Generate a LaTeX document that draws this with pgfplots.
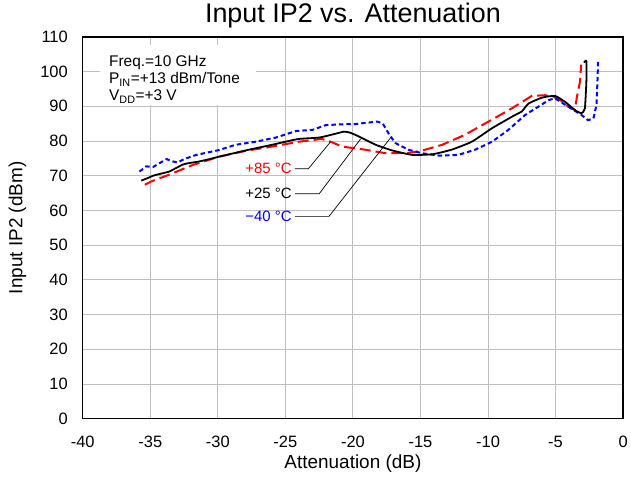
\documentclass[border=0pt]{standalone}
\usepackage{pgfplots}
\pgfplotsset{compat=1.18}
\usepackage{fontspec}
\setmainfont{Liberation Sans}
\definecolor{myred}{RGB}{255,0,0}
\definecolor{myblue}{RGB}{0,0,255}
\begin{document}
\begin{tikzpicture}
\begin{axis}[
  scale only axis,
  width=542pt, height=383pt,
  xmin=-40, xmax=0, ymin=0, ymax=110,
  clip=false,
  xtick={-40,-35,-30,-25,-20,-15,-10,-5,0},
  xticklabels={-40,-35,-30,-25,-20,-15,-10,-5,0},
  ytick={0,10,20,30,40,50,60,70,80,90,100,110},
  yticklabels={0,10,20,30,40,50,60,70,80,90,100,110},
  major tick length=0pt,
  grid=major,
  major grid style={draw=black!25, line width=1pt},
  axis line style={line width=1.5pt},
  tick label style={font=\fontsize{16.5}{18}\selectfont},
  xticklabel style={yshift=-13.5pt},
  yticklabel style={xshift=-11.5pt},
  label style={font=\fontsize{19}{21}\selectfont},
  xlabel={Attenuation (dB)},
  ylabel={Input IP2 (dBm)},
  xlabel style={at={(axis description cs:0.5,-0.1175)}, anchor=center},
  ylabel style={at={(axis description cs:-0.121,0.5)}, anchor=center, rotate=0},
  title={Input IP2 vs. Attenuation},
  title style={font=\fontsize{27}{29}\selectfont, at={(axis description cs:0.5,1.0394)}, anchor=center},
]
% page extent
\path (axis cs:-46.125,-17.23) rectangle (axis cs:0.443,120.05);
% white legend box
\fill[white] (axis cs:-38.7,107.6) rectangle (axis cs:-27.2,90.3);
\node[anchor=north west, align=left, inner sep=0pt, font=\fontsize{15.5}{17}\selectfont]
  at (axis cs:-38.06,104.6) {Freq.=10 GHz\\P\textsubscript{IN}=+13 dBm/Tone\\V\textsubscript{DD}=+3 V};

% +85 C
\addplot[myred, line width=2pt, dash pattern=on 11pt off 5pt] coordinates {
(-35.4,67.4) (-34.9,68.4) (-33.6,70.3) (-31.86,73.1) (-29.9,75.5) (-27.9,77.2)
(-26.0,78.4) (-24.0,79.8) (-22.3,80.6) (-21.65,79.8) (-20.8,78.4) (-19.1,77.5)
(-17.6,76.5) (-16.1,76.5) (-15.1,77.0) (-13.4,78.9) (-11.7,81.8) (-9.96,85.6)
(-8.24,89.4) (-6.76,93.0) (-5.78,93.2) (-4.8,92.3) (-4.06,89.9) (-3.56,88.9)
(-3.44,92.3) (-3.2,97) (-3.1,102.0)
};
% -40 C
\addplot[myblue, line width=2pt, dash pattern=on 4.5pt off 3pt] coordinates {
(-35.8,71.2) (-35.3,72.7) (-34.8,72.5) (-33.8,74.8) (-33.4,74.2) (-32.97,73.8)
(-32.5,74.8) (-31.6,76.0) (-29.9,77.4) (-28.7,78.9) (-27.2,79.8) (-25.7,81.0)
(-24.2,82.9) (-23.0,83.2) (-22.0,84.6) (-20.8,84.8) (-19.8,84.9) (-18.2,85.6)
(-17.8,85.1) (-17.3,81.8) (-16.85,79.4) (-15.9,77.5) (-14.9,76.5) (-13.65,75.8)
(-12.2,76.0) (-10.95,77.5) (-9.7,79.8) (-8.5,83.2) (-7.25,87.5) (-6.27,89.9)
(-5.5,91.8) (-5.04,92.3) (-4.06,89.9) (-3.08,87.5) (-2.6,86.0) (-2.2,86.5)
(-1.97,90.4) (-1.9,97) (-1.85,103.5)
};
% +25 C
\addplot[black, line width=1.8pt, smooth, tension=0.3] coordinates {
(-35.67,68.6) (-35.2,69.3) (-34.8,70.0) (-34.1,70.7) (-33.6,71.2) (-33.1,72.2)
(-32.6,73.2) (-32.2,73.6) (-31.4,74.1) (-30.6,74.8) (-29.9,75.5) (-28.8,76.5)
(-27.7,77.5) (-26.0,78.9) (-25.0,79.8) (-24.0,80.6) (-22.5,81.0) (-21.5,81.9)
(-20.66,82.7) (-20.2,82.4) (-19.56,81.3) (-18.3,78.9) (-17.1,77.3) (-15.6,76.0)
(-14.1,76.2) (-12.7,77.5) (-11.2,79.8) (-9.7,83.7) (-8.0,87.5) (-7.5,88.5)
(-7.0,90.8) (-6.0,92.5) (-5.04,93.0) (-4.3,91.3) (-3.56,88.9) (-3.08,88.0)
(-2.83,89.4) (-2.72,97) (-2.72,103.0) (-2.9,102.6)
};

% annotations
\draw[black, line width=0.7pt] (axis cs:-24.3,72.0) -- (axis cs:-23.3,72.0) -- (axis cs:-21.65,79.8);
\draw[black, line width=0.7pt] (axis cs:-24.3,64.8) -- (axis cs:-22.5,64.8) -- (axis cs:-19.43,80.6);
\draw[black, line width=0.7pt] (axis cs:-24.3,58.3) -- (axis cs:-21.77,58.3) -- (axis cs:-17.2,81.0);
\node[anchor=east, inner sep=1pt, text=myred, font=\fontsize{15}{16}\selectfont] at (axis cs:-24.45,72.0) {+85 °C};
\node[anchor=east, inner sep=1pt, text=black, font=\fontsize{15}{16}\selectfont] at (axis cs:-24.45,64.8) {+25 °C};
\node[anchor=east, inner sep=1pt, text=myblue, font=\fontsize{15}{16}\selectfont] at (axis cs:-24.45,58.3) {−40 °C};
\end{axis}
\end{tikzpicture}
\end{document}
